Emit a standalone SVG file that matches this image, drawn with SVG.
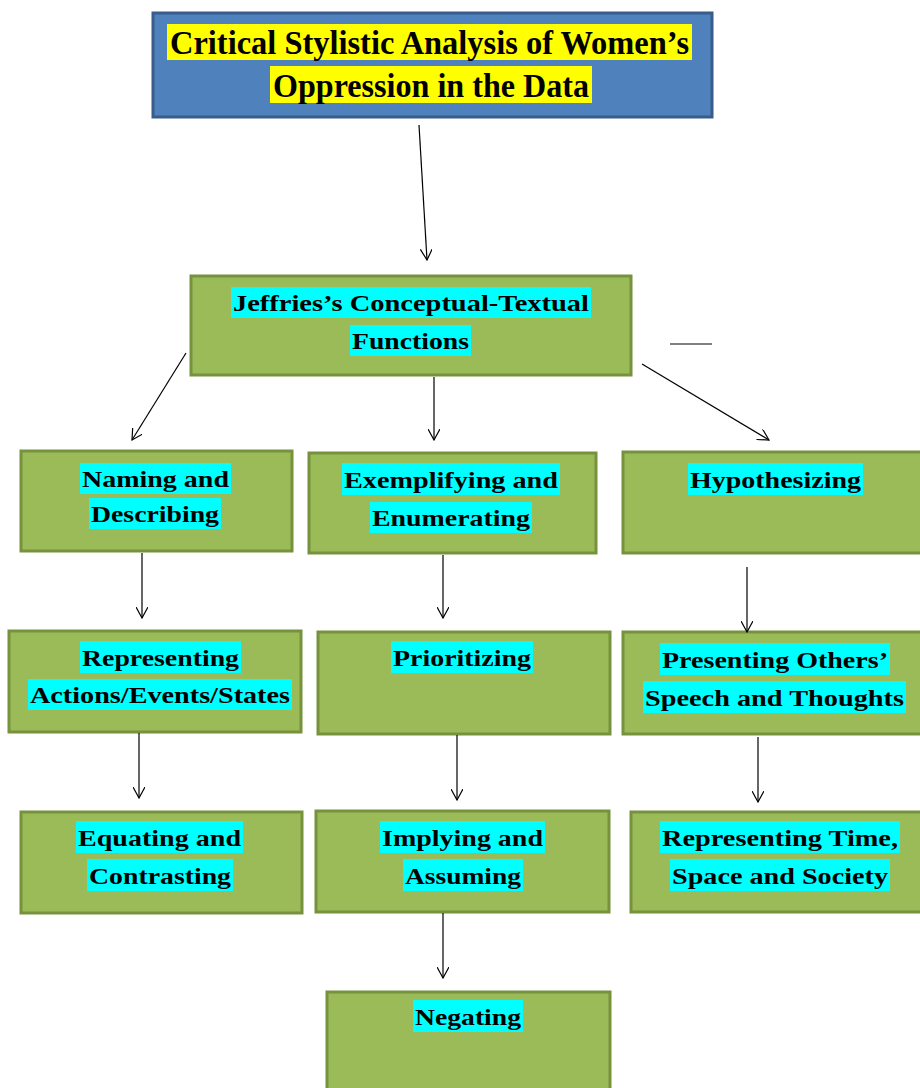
<svg xmlns="http://www.w3.org/2000/svg" width="920" height="1088" viewBox="0 0 920 1088">
<style>
.box{fill:#9BBB59;stroke:#76923C;stroke-width:3}
.title{fill:#4F81BD;stroke:#385D8A;stroke-width:3}
.hl{fill:#00FFFF}
.hy{fill:#FFFF00}
.t{font-family:"Liberation Serif","Times New Roman",serif;font-weight:bold;font-size:24px;fill:#000;text-anchor:middle}
.tt{font-family:"Liberation Serif","Times New Roman",serif;font-weight:bold;font-size:33px;fill:#000;text-anchor:middle}
.c{stroke:#000;stroke-width:1.2;fill:none}
</style>
<defs>
<marker id="ah" viewBox="0 0 12 12" refX="11" refY="6" markerWidth="12" markerHeight="12" markerUnits="userSpaceOnUse" orient="auto">
<path d="M0,0 L11,6 L0,12" fill="none" stroke="#000" stroke-width="1.2"/>
</marker>
</defs>

<g id="n-title">
<rect class="title" x="153" y="13" width="559" height="104"/>
<rect class="hy" x="167" y="24" width="525" height="36"/>
<rect class="hy" x="270" y="66" width="322" height="37"/>
<text class="tt" x="429.5" y="54" textLength="519" lengthAdjust="spacingAndGlyphs">Critical Stylistic Analysis of Women’s</text>
<text class="tt" x="431" y="97" textLength="316" lengthAdjust="spacingAndGlyphs">Oppression in the Data</text>
</g>

<g id="n-jeffries">
<rect class="box" x="191" y="276" width="440" height="99"/>
<rect class="hl" x="231" y="287" width="360" height="31"/>
<rect class="hl" x="350" y="325" width="121" height="31"/>
<text class="t" x="411" y="311" textLength="356" lengthAdjust="spacingAndGlyphs">Jeffries’s Conceptual-Textual</text>
<text class="t" x="410.5" y="349" textLength="117" lengthAdjust="spacingAndGlyphs">Functions</text>
</g>

<g id="n-naming">
<rect class="box" x="21" y="451" width="271" height="100"/>
<rect class="hl" x="80" y="463" width="151" height="31"/>
<rect class="hl" x="89" y="498" width="132" height="31"/>
<text class="t" x="155.5" y="487" textLength="147" lengthAdjust="spacingAndGlyphs">Naming and</text>
<text class="t" x="155" y="522" textLength="128" lengthAdjust="spacingAndGlyphs">Describing</text>
</g>

<g id="n-exemplifying">
<rect class="box" x="309" y="453" width="287" height="100"/>
<rect class="hl" x="342" y="463" width="218" height="32"/>
<rect class="hl" x="370" y="502" width="162" height="31"/>
<text class="t" x="451" y="488" textLength="214" lengthAdjust="spacingAndGlyphs">Exemplifying and</text>
<text class="t" x="451" y="526" textLength="158" lengthAdjust="spacingAndGlyphs">Enumerating</text>
</g>

<g id="n-hypothesizing">
<rect class="box" x="623" y="452" width="300" height="101"/>
<rect class="hl" x="688" y="463" width="175" height="32"/>
<text class="t" x="775.5" y="488" textLength="171" lengthAdjust="spacingAndGlyphs">Hypothesizing</text>
</g>

<g id="n-representing-aes">
<rect class="box" x="9" y="631" width="292" height="101"/>
<rect class="hl" x="80" y="641" width="161" height="32"/>
<rect class="hl" x="28" y="679" width="264" height="31"/>
<text class="t" x="160.5" y="666" textLength="157" lengthAdjust="spacingAndGlyphs">Representing</text>
<text class="t" x="160" y="703" textLength="260" lengthAdjust="spacingAndGlyphs">Actions/Events/States</text>
</g>

<g id="n-prioritizing">
<rect class="box" x="318" y="632" width="292" height="102"/>
<rect class="hl" x="391" y="641" width="142" height="32"/>
<text class="t" x="462" y="666" textLength="138" lengthAdjust="spacingAndGlyphs">Prioritizing</text>
</g>

<g id="n-presenting">
<rect class="box" x="623" y="632" width="300" height="102"/>
<rect class="hl" x="660" y="643" width="230" height="32"/>
<rect class="hl" x="643" y="681" width="263" height="32"/>
<text class="t" x="775" y="668" textLength="226" lengthAdjust="spacingAndGlyphs">Presenting Others’</text>
<text class="t" x="774.5" y="706" textLength="259" lengthAdjust="spacingAndGlyphs">Speech and Thoughts</text>
</g>

<g id="n-equating">
<rect class="box" x="21" y="812" width="281" height="101"/>
<rect class="hl" x="76" y="821" width="167" height="32"/>
<rect class="hl" x="87" y="859" width="146" height="32"/>
<text class="t" x="159.5" y="846" textLength="163" lengthAdjust="spacingAndGlyphs">Equating and</text>
<text class="t" x="160" y="884" textLength="142" lengthAdjust="spacingAndGlyphs">Contrasting</text>
</g>

<g id="n-implying">
<rect class="box" x="316" y="811" width="293" height="101"/>
<rect class="hl" x="380" y="821" width="165" height="32"/>
<rect class="hl" x="403" y="859" width="120" height="32"/>
<text class="t" x="462.5" y="846" textLength="161" lengthAdjust="spacingAndGlyphs">Implying and</text>
<text class="t" x="463" y="884" textLength="116" lengthAdjust="spacingAndGlyphs">Assuming</text>
</g>

<g id="n-time">
<rect class="box" x="631" y="812" width="292" height="100"/>
<rect class="hl" x="660" y="821" width="240" height="32"/>
<rect class="hl" x="670" y="859" width="220" height="32"/>
<text class="t" x="780" y="846" textLength="236" lengthAdjust="spacingAndGlyphs">Representing Time,</text>
<text class="t" x="780" y="884" textLength="216" lengthAdjust="spacingAndGlyphs">Space and Society</text>
</g>

<g id="n-negating">
<rect class="box" x="327" y="992" width="283" height="100"/>
<rect class="hl" x="413" y="1000" width="110" height="32"/>
<text class="t" x="468" y="1025" textLength="106" lengthAdjust="spacingAndGlyphs">Negating</text>
</g>

<g id="connectors">
<line class="c" x1="419" y1="125" x2="427" y2="260" marker-end="url(#ah)"/>
<line class="c" x1="186" y1="353" x2="132" y2="440" marker-end="url(#ah)"/>
<line class="c" x1="434" y1="377" x2="434" y2="440" marker-end="url(#ah)"/>
<line class="c" x1="642" y1="364" x2="769" y2="440" marker-end="url(#ah)"/>
<line class="c" x1="670" y1="344" x2="712" y2="344"/>
<line class="c" x1="142" y1="553" x2="142" y2="618" marker-end="url(#ah)"/>
<line class="c" x1="443" y1="555" x2="443" y2="618" marker-end="url(#ah)"/>
<line class="c" x1="747" y1="567" x2="747" y2="632" marker-end="url(#ah)"/>
<line class="c" x1="139" y1="733" x2="139" y2="798" marker-end="url(#ah)"/>
<line class="c" x1="457" y1="735" x2="457" y2="800" marker-end="url(#ah)"/>
<line class="c" x1="758" y1="737" x2="758" y2="802" marker-end="url(#ah)"/>
<line class="c" x1="443" y1="913" x2="443" y2="978" marker-end="url(#ah)"/>
</g>
</svg>
